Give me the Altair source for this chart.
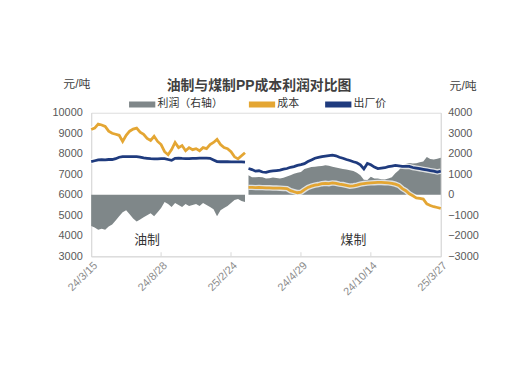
import altair as alt
import pandas as pd

# ---------------- data ----------------
x_labels = ["24/3/15", "24/8/28", "25/2/24", "24/4/29", "24/10/14", "25/3/27"]
x_ticks = [0, 20, 40, 60, 80, 100]
series_names = ["利润（右轴）", "成本", "出厂价"]
series_colors = ["#7f8789", "#e4a633", "#1f3b7e"]

seg_names = ["油制", "煤制"]
seg_starts = [0, 45]

oil_cost = [9180, 9250, 9450, 9400, 9330, 9100, 9000, 8950, 8900, 8600,
            8900, 9100, 9200, 9250, 9050, 8950, 8750, 8650, 8850, 8600,
            8450, 8100, 7950, 8200, 8550, 8300, 8400, 8150, 8300, 8200,
            8250, 8150, 8300, 8250, 8450, 8550, 8700, 8450, 8300, 8250,
            8100, 7850, 7750, 7900, 8050]
oil_price = [7620, 7660, 7700, 7710, 7700, 7720, 7720, 7760, 7830, 7860,
             7860, 7860, 7860, 7860, 7840, 7800, 7780, 7760, 7750, 7750,
             7760, 7760, 7720, 7680, 7780, 7790, 7770, 7760, 7760, 7770,
             7780, 7790, 7790, 7790, 7780, 7700, 7620, 7610, 7610, 7610,
             7600, 7600, 7600, 7600, 7590]
oil_profit = [-1520, -1600, -1700, -1650, -1700, -1550, -1450, -1250, -1050, -850,
              -750, -950, -1150, -1300, -1200, -1100, -1000, -900, -1050, -850,
              -650, -350, -450, -600, -400, -500, -600, -450, -550, -500,
              -450, -550, -400, -500, -600, -700, -1050, -750, -650, -550,
              -400, -250, -200, -300, -350]

coal_cost = [6360, 6360, 6350, 6360, 6350, 6340, 6340, 6330, 6330, 6320,
             6310, 6300, 6200, 6150, 6100, 6130, 6250, 6360, 6420, 6470,
             6500, 6540, 6560, 6540, 6580, 6560, 6520, 6500, 6460, 6420,
             6440, 6470, 6520, 6550, 6570, 6580, 6590, 6600, 6600, 6590,
             6580, 6560, 6520, 6450, 6300, 6200, 6050, 5950, 5850, 5820,
             5790, 5560, 5480, 5420, 5380, 5340]
coal_price = [7280, 7230, 7150, 7170, 7110, 7090, 7140, 7160, 7180, 7200,
              7250, 7280, 7340, 7370, 7430, 7470, 7520, 7620, 7700, 7780,
              7820, 7860, 7890, 7910, 7930, 7900, 7830, 7780, 7720, 7670,
              7610, 7560, 7460, 7260, 7530, 7460, 7350, 7280, 7300, 7320,
              7370, 7400, 7430, 7410, 7390, 7380, 7380, 7330, 7300, 7270,
              7240, 7210, 7180, 7150, 7110, 7150]
coal_profit = [950, 860, 850, 870, 860, 790, 810, 840, 820, 790,
               830, 890, 950, 1030, 1080, 1110, 1260, 1300, 1350, 1370,
               1390, 1400, 1440, 1420, 1370, 1330, 1290, 1260, 1230, 1200,
               1160, 1080, 950, 730, 720, 880, 800, 790, 760, 740,
               800, 860, 1050, 1200, 1420, 1500, 1550, 1520, 1540, 1580,
               1620, 1840, 1750, 1720, 1760, 1810]

seg_label_idx = [16, 75]
seg_label_y = [3770, 3770]

# ---------------- tables ----------------
rows = []
for seg, start, cost, price, profit in [
    (seg_names[0], seg_starts[0], oil_cost, oil_price, oil_profit),
    (seg_names[1], seg_starts[1], coal_cost, coal_price, coal_profit),
]:
    for i, (c, p, pr) in enumerate(zip(cost, price, profit)):
        rows.append({"idx": start + i, "seg": seg, "成本": c, "出厂价": p,
                     "profit": pr, "zero": 0})
df = pd.DataFrame(rows)
df["series"] = series_names[0]

long = df.melt(id_vars=["idx", "seg"], value_vars=["成本", "出厂价"],
               var_name="series", value_name="value")
long["grp"] = long["seg"] + long["series"]

ann = pd.DataFrame({"idx": seg_label_idx, "value": seg_label_y, "text": seg_names})
tick_df = pd.DataFrame({"idx": x_ticks[1:-1], "value": [3000] * 4, "value2": [3200] * 4})

FONT = "Liberation Sans, Noto Sans CJK SC, sans-serif"
AX = "#d9d9d9"
LBL = "#595959"

label_expr = "[" + ",".join("'%s'" % s for s in x_labels) + "][round(datum.value/20)]"

xenc = alt.X("idx:Q",
             scale=alt.Scale(domain=[0, 100], nice=False, zero=False),
             axis=alt.Axis(values=x_ticks, labelExpr=label_expr, labelAngle=315,
                           labelAlign="right", labelBaseline="top", ticks=False,
                           grid=False, domainColor=AX, labelColor="#8c8c8c",
                           labelFontSize=11, labelPadding=3, labelOverlap=False,
                           title=None))

color = alt.Color("series:N",
                  scale=alt.Scale(domain=series_names, range=series_colors),
                  legend=alt.Legend(orient="none", direction="horizontal",
                                    legendX=38, legendY=-22, title=None,
                                    symbolType="M-1,-0.18H1V0.18H-1Z",
                                    symbolSize=625, labelFontSize=11,
                                    labelColor="#333333", columnPadding=24,
                                    labelOffset=2, labelFont=FONT))

area = alt.Chart(df).mark_area(opacity=1).encode(
    x=xenc,
    y=alt.Y("profit:Q",
            scale=alt.Scale(domain=[-3000, 4000], nice=False),
            axis=alt.Axis(orient="right", values=list(range(-3000, 4001, 1000)),
                          format="d", labelOverlap=False, labelPadding=7,
                          grid=False, ticks=False, domainColor=AX, labelColor=LBL,
                          labelFontSize=11, title="元/吨", titleAngle=0,
                          titleX=22, titleY=-27, titleAlign="center",
                          titleBaseline="middle", titleFontWeight="normal",
                          titleFontSize=12, titleColor="#404040")),
    y2="zero:Q",
    detail="seg:N",
    color=color,
)

yleft = alt.Y("value:Q",
              scale=alt.Scale(domain=[3000, 10000], nice=False, zero=False),
              axis=alt.Axis(values=list(range(3000, 10001, 1000)), grid=False,
                            format="d", labelOverlap=False, labelPadding=9,
                            ticks=False, domainColor=AX, labelColor=LBL,
                            labelFontSize=11, title="元/吨", titleAngle=0,
                            titleX=-15, titleY=-29, titleAlign="center",
                            titleBaseline="middle", titleFontWeight="normal",
                            titleFontSize=12, titleColor="#404040"))

halo = alt.Chart(long).mark_line(strokeWidth=5.5, color="#ffffff", opacity=0.75).encode(
    x=xenc, y=yleft, detail="grp:N")
lines = alt.Chart(long).mark_line(strokeWidth=2.8).encode(
    x=xenc, y=yleft, detail="grp:N", color=color)
ticks = alt.Chart(tick_df).mark_rule(color=AX).encode(
    x=xenc, y=yleft, y2="value2:Q")
texts = alt.Chart(ann).mark_text(fontSize=13, color="#333333", font=FONT).encode(
    x=xenc, y=yleft, text="text:N")

left = alt.layer(halo, lines, ticks, texts)

chart = alt.layer(area, left).resolve_scale(y="independent").properties(
    width=353, height=145,
    title=alt.TitleParams("油制与煤制PP成本利润对比图", fontSize=14, fontWeight="bold",
                          color="#404040", anchor="middle", frame="group",
                          offset=16, dx=-7, dy=31, font=FONT),
    autosize=alt.AutoSizeParams(type="none"),
    padding={"left": 84, "top": 104, "right": 80, "bottom": 110},
).configure_view(stroke=None).configure(font=FONT, background="white")

chart.save("out.html", embed_options={"renderer": "svg", "actions": False})
